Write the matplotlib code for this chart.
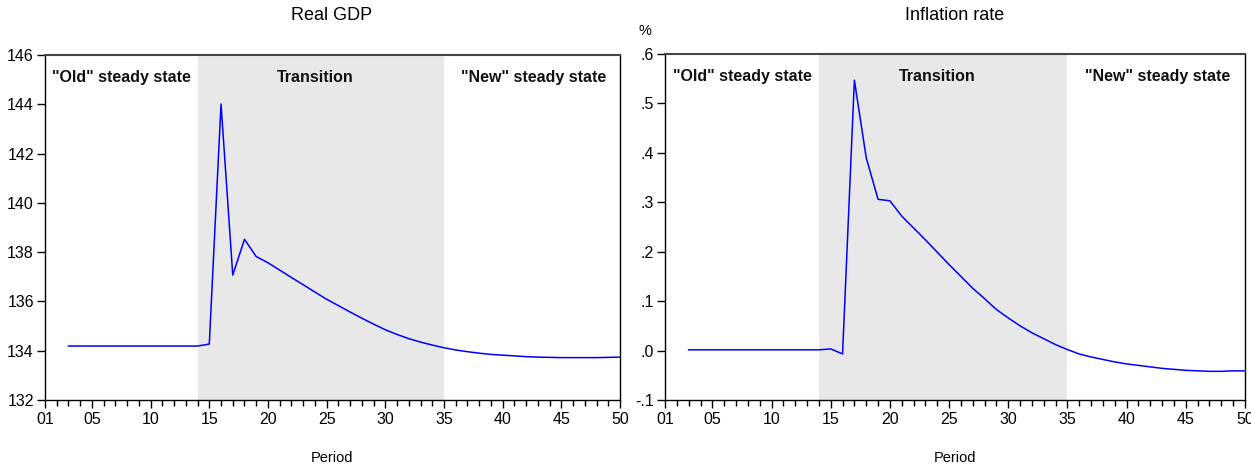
import matplotlib
matplotlib.use("Agg")
import matplotlib.pyplot as plt
from matplotlib.ticker import FixedLocator, MultipleLocator

plt.rcParams['font.family'] = ['Liberation Sans', 'DejaVu Sans']

# Data: periods 3..50
periods = list(range(3, 51))

real_gdp = [134.19] * 12 + [
    134.27, 144.01, 137.07, 138.52, 137.82, 137.57,
    137.27, 136.97, 136.68, 136.38, 136.09,
    135.83, 135.57, 135.32, 135.08, 134.85,
    134.66, 134.49, 134.35, 134.23, 134.12,
    134.03, 133.96, 133.90, 133.85, 133.82,
    133.79, 133.76, 133.74, 133.73, 133.72,
    133.72, 133.72, 133.72, 133.73, 133.74,
]

inflation = [0.0015] * 12 + [
    0.0034, -0.0068, 0.547, 0.390, 0.306, 0.303,
    0.272, 0.248, 0.224, 0.199, 0.174,
    0.150, 0.126, 0.105, 0.083, 0.066,
    0.050, 0.036, 0.024, 0.012, 0.002,
    -0.007, -0.013, -0.018, -0.023, -0.027,
    -0.030, -0.033, -0.036, -0.038, -0.040,
    -0.041, -0.042, -0.042, -0.041, -0.041,
]

x_ticks = [1, 5, 10, 15, 20, 25, 30, 35, 40, 45, 50]
x_labels = ['01', '05', '10', '15', '20', '25', '30', '35', '40', '45', '50']

gdp_ticks = [132, 134, 136, 138, 140, 142, 144, 146]
gdp_labels = ['132', '134', '136', '138', '140', '142', '144', '146']

infl_ticks = [-0.1, 0.0, 0.1, 0.2, 0.3, 0.4, 0.5, 0.6]
infl_labels = ['-.1', '.0', '.1', '.2', '.3', '.4', '.5', '.6']

transition = (14, 35)
regions = [(7.5, '"Old" steady state'), (24.0, 'Transition'), (42.6, '"New" steady state')]

W, H = 1251, 468
fig = plt.figure(figsize=(W / 100, H / 100), dpi=100)

ax1 = fig.add_axes([45 / W, 68 / H, 575 / W, 345 / H])
ax2 = fig.add_axes([665 / W, 68 / H, 580 / W, 346 / H])


def style_panel(ax, series, yticks, ylabels, ylim):
    ax.axvspan(transition[0], transition[1], color='#e8e8e8', lw=0, zorder=0)
    ax.plot(periods, series, color='#0000ff', lw=1.1, zorder=3)
    ax.set_xlim(1, 50)
    ax.set_ylim(*ylim)

    ax.xaxis.set_major_locator(FixedLocator(x_ticks))
    ax.set_xticklabels(x_labels)
    ax.xaxis.set_minor_locator(MultipleLocator(1))
    ax.yaxis.set_major_locator(FixedLocator(yticks))
    ax.set_yticklabels(ylabels)

    ax.tick_params(axis='x', which='major', direction='out', length=6, width=1,
                   labelsize=11.5, pad=3)
    ax.tick_params(axis='x', which='minor', direction='out', length=4, width=1)
    ax.tick_params(axis='y', which='major', direction='out', length=6, width=1,
                   labelsize=11.5, pad=2)

    for side in ['left', 'right', 'bottom']:
        ax.spines[side].set_color('black')
        ax.spines[side].set_linewidth(1)
    ax.spines['top'].set_color('#444444')
    ax.spines['top'].set_linewidth(1.5)

    for xpos, txt in regions:
        ax.annotate(txt, xy=(xpos, 1), xycoords=('data', 'axes fraction'),
                    xytext=(0, -16), textcoords='offset points',
                    ha='center', va='center', fontsize=11.5, fontweight='bold',
                    color='#111111')


style_panel(ax1, real_gdp, gdp_ticks, gdp_labels, (132, 146))
style_panel(ax2, inflation, infl_ticks, infl_labels, (-0.1, 0.6))

fig.text(332 / W, 1 - 15 / H, 'Real GDP', ha='center', va='center', fontsize=13)
fig.text(955 / W, 1 - 15 / H, 'Inflation rate', ha='center', va='center', fontsize=13)
fig.text(645 / W, 1 - 31 / H, '%', ha='center', va='center', fontsize=10.5)
fig.text(332 / W, 1 - 458 / H, 'Period', ha='center', va='center', fontsize=10.5)
fig.text(955 / W, 1 - 458 / H, 'Period', ha='center', va='center', fontsize=10.5)

fig.savefig('out.png', dpi=100)
